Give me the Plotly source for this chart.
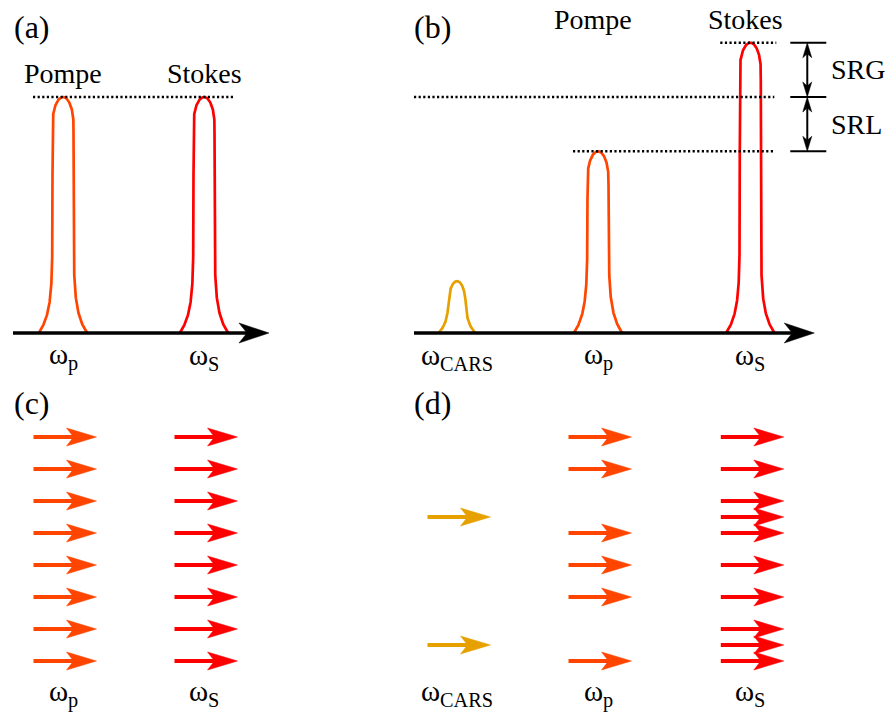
import numpy as np
import plotly.graph_objects as go

# ---------------------------------------------------------------------------
# Data
# ---------------------------------------------------------------------------
# (a) spectra without interaction: centre (a.u.), amplitude, half width (a.u.)
a_labels = ["Pompe", "Stokes"]
a_symbols = ["ω<sub>p</sub>", "ω<sub>S</sub>"]
a_centres = [1.0, 2.0]
a_amps = [1.0, 1.0]
a_widths = [0.0745, 0.0745]

# (b) spectra with stimulated Raman interaction
b_labels = ["", "Pompe", "Stokes"]
b_symbols = ["ω<sub>CARS</sub>", "ω<sub>p</sub>", "ω<sub>S</sub>"]
b_centres = [0.0, 1.0, 2.08]
b_amps = [0.22, 0.77, 1.23]
b_widths = [0.057, 0.0745, 0.0745]

# reference level (amplitude of the beams before interaction)
ref_level = 1.0

# (c) photons per beam (row index of each photon)
c_pump_rows = [0, 1, 2, 3, 4, 5, 6, 7]
c_stokes_rows = [0, 1, 2, 3, 4, 5, 6, 7]

# (d) photons after interaction
d_cars_rows = [2.5, 6.5]
d_pump_rows = [0, 1, 3, 4, 5, 7]
d_stokes_rows = [0, 1, 2, 2.5, 3, 4, 5, 6, 6.5, 7]

# colours
C_CARS = "#E6A000"
C_PUMP = "#FF4500"
C_STOKES = "#FF0000"
C_INK = "#000000"
FONT = "Liberation Serif"

# ---------------------------------------------------------------------------
# Geometry helpers (pixel sizes converted to axis units)
# ---------------------------------------------------------------------------
W, H = 888, 721
SX = 141.0      # px per frequency unit
SY_TOP = 236.0  # px per amplitude unit
SY_BOT = 32.0   # px per photon row

X_LEFT = [1 - 63 / SX, 1 + 237 / SX]
X_RIGHT = [-57 / SX, (888 - 457) / SX]
Y_TOP = [-37 / SY_TOP, 333 / SY_TOP]
Y_BOT = [(721 - 437) / SY_BOT, (380 - 437) / SY_BOT]


def profile(c, amp, width):
    """Rounded, flat-sided line shape with a flared foot."""
    r = width * SX                 # half width of the flanks, px
    hpx = amp * SY_TOP             # peak height, px
    cap = min(2.6 * r, 0.45 * hpx)  # depth of the rounded top
    flare = 1.3 * r
    lam = min(20.0, 0.2 * hpx)
    t = np.linspace(0, 1, 500)
    h = hpx * (1 - (1 - t) ** 2)
    dy = hpx - h
    half = np.where(dy < cap, r * np.sqrt(np.clip(1 - (1 - dy / cap) ** 2, 0, 1)), r)
    half = half + flare * np.exp(-h / lam)
    xs = np.concatenate([c - half / SX, (c + half / SX)[::-1]])
    ys = np.concatenate([h, h[::-1]]) / SY_TOP
    return xs, ys


def h_arrow_heads(tips, rows, length, half, notch):
    xs, ys = [], []
    for t, r in zip(tips, rows):
        xs += [t, t - length, t - length + notch, t - length, t, None]
        ys += [r, r - half, r, r + half, r, None]
    return xs, ys


def photon_arrows(fig, centre, rows, colour, xa, ya):
    back, front = 29.5 / SX, 33.5 / SX
    hl, hh, nd = 30 / SX, 9 / SY_BOT, 7 / SX
    sx, sy = [], []
    for r in rows:
        sx += [centre - back, centre + front - hl + nd + 1 / SX, None]
        sy += [r, r, None]
    fig.add_trace(go.Scatter(x=sx, y=sy, mode="lines", xaxis=xa, yaxis=ya,
                             line=dict(color=colour, width=4), hoverinfo="skip"))
    hx, hy = h_arrow_heads([centre + front] * len(rows), rows, hl, hh, nd)
    fig.add_trace(go.Scatter(x=hx, y=hy, mode="lines", fill="toself", fillcolor=colour,
                             xaxis=xa, yaxis=ya, line=dict(color=colour, width=0.5),
                             hoverinfo="skip"))


def freq_axis(fig, x0, x1, xa, ya):
    hl, hh, nd = 30 / SX, 10 / SY_TOP, 8 / SX
    fig.add_trace(go.Scatter(x=[x0, x1 - hl + nd], y=[0, 0], mode="lines",
                             xaxis=xa, yaxis=ya, line=dict(color=C_INK, width=3.5),
                             hoverinfo="skip"))
    hx, hy = h_arrow_heads([x1], [0], hl, hh, nd)
    fig.add_trace(go.Scatter(x=hx, y=hy, mode="lines", fill="toself", fillcolor=C_INK,
                             xaxis=xa, yaxis=ya, line=dict(color=C_INK, width=0.5),
                             hoverinfo="skip"))


def dotted(fig, x0, x1, level, xa, ya):
    fig.add_trace(go.Scatter(x=[x0, x1], y=[level, level], mode="lines",
                             xaxis=xa, yaxis=ya,
                             line=dict(color=C_INK, width=2.4, dash="2.2px,2.4px"),
                             hoverinfo="skip"))


fig = go.Figure()

# ---------------------------------------------------------------------------
# (a) spectra
# ---------------------------------------------------------------------------
for c, amp, w, col in zip(a_centres, a_amps, a_widths, [C_PUMP, C_STOKES]):
    x, y = profile(c, amp, w)
    fig.add_trace(go.Scatter(x=x, y=y, mode="lines", xaxis="x", yaxis="y",
                             line=dict(color=col, width=2.7), hoverinfo="skip"))
dotted(fig, a_centres[0] - 30 / SX, a_centres[1] + 30 / SX, ref_level, "x", "y")
freq_axis(fig, a_centres[0] - 50 / SX, a_centres[1] + 65 / SX, "x", "y")

# ---------------------------------------------------------------------------
# (b) spectra
# ---------------------------------------------------------------------------
for c, amp, w, col in zip(b_centres, b_amps, b_widths, [C_CARS, C_PUMP, C_STOKES]):
    x, y = profile(c, amp, w)
    fig.add_trace(go.Scatter(x=x, y=y, mode="lines", xaxis="x2", yaxis="y2",
                             line=dict(color=col, width=2.7), hoverinfo="skip"))
x_end = b_centres[2] + 24 / SX
dotted(fig, b_centres[2] - 30 / SX, b_centres[2] + 26 / SX, b_amps[2], "x2", "y2")
dotted(fig, b_centres[0] - 43 / SX, x_end, ref_level, "x2", "y2")
dotted(fig, b_centres[1] - 25 / SX, x_end, b_amps[1], "x2", "y2")
freq_axis(fig, b_centres[0] - 43 / SX, b_centres[2] + 64 / SX, "x2", "y2")

# SRG / SRL brackets
bx0 = b_centres[2] + 40 / SX
bx1 = b_centres[2] + 76 / SX
bxa = b_centres[2] + 57 / SX
levels = [b_amps[2], ref_level, b_amps[1]]
tx, ty = [], []
for lv in levels:
    tx += [bx0, bx1, None]
    ty += [lv, lv, None]
fig.add_trace(go.Scatter(x=tx, y=ty, mode="lines", xaxis="x2", yaxis="y2",
                         line=dict(color=C_INK, width=2), hoverinfo="skip"))
vhl, vhw, vnd = 15 / SY_TOP, 4.5 / SX, 4 / SY_TOP
vx, vy, hx, hy = [], [], [], []
for top, bot in [(levels[0], levels[1]), (levels[1], levels[2])]:
    vx += [bxa, bxa, None]
    vy += [top - vhl + vnd, bot + vhl - vnd, None]
    hx += [bxa, bxa - vhw, bxa, bxa + vhw, bxa, None]
    hy += [top, top - vhl, top - vhl + vnd, top - vhl, top, None]
    hx += [bxa, bxa - vhw, bxa, bxa + vhw, bxa, None]
    hy += [bot, bot + vhl, bot + vhl - vnd, bot + vhl, bot, None]
fig.add_trace(go.Scatter(x=vx, y=vy, mode="lines", xaxis="x2", yaxis="y2",
                         line=dict(color=C_INK, width=2), hoverinfo="skip"))
fig.add_trace(go.Scatter(x=hx, y=hy, mode="lines", fill="toself", fillcolor=C_INK,
                         xaxis="x2", yaxis="y2", line=dict(color=C_INK, width=0.5),
                         hoverinfo="skip"))

# ---------------------------------------------------------------------------
# (c) and (d) photons
# ---------------------------------------------------------------------------
photon_arrows(fig, a_centres[0], c_pump_rows, C_PUMP, "x3", "y3")
photon_arrows(fig, a_centres[1], c_stokes_rows, C_STOKES, "x3", "y3")
photon_arrows(fig, b_centres[0], d_cars_rows, C_CARS, "x4", "y4")
photon_arrows(fig, b_centres[1], d_pump_rows, C_PUMP, "x4", "y4")
photon_arrows(fig, b_centres[2], d_stokes_rows, C_STOKES, "x4", "y4")

# ---------------------------------------------------------------------------
# Text
# ---------------------------------------------------------------------------
ann = []


def txt(x, y, s, xr, yr, size=28, xanchor="center", yanchor="middle"):
    ann.append(dict(x=x, y=y, text=s, xref=xr, yref=yr, showarrow=False,
                    xanchor=xanchor, yanchor=yanchor,
                    font=dict(family=FONT, size=size, color=C_INK)))


for c, lab in zip(a_centres, a_labels):
    txt(c, 1.10, lab, "x", "y")
for c, sym in zip(a_centres, a_symbols):
    txt(c, -0.10, sym, "x", "y", size=29)
for c, lab in zip(b_centres, b_labels):
    if lab:
        txt(c - 5 / SX, 1.33, lab, "x2", "y2")
for c, sym in zip(b_centres, b_symbols):
    txt(c, -0.10, sym, "x2", "y2", size=29)
txt(bx1 + 3 / SX, (levels[0] + levels[1]) / 2, "SRG", "x2", "y2", xanchor="left")
txt(bx1 + 3 / SX, (levels[1] + levels[2]) / 2, "SRL", "x2", "y2", xanchor="left")

for c, sym in zip(a_centres, a_symbols):
    txt(c, 8.0, sym, "x3", "y3", size=29)
for c, sym in zip(b_centres, b_symbols):
    txt(c, 8.0, sym, "x4", "y4", size=29)

for lab, px, py in [("(a)", 12, 27), ("(b)", 412, 27), ("(c)", 12, 403), ("(d)", 412, 403)]:
    txt(px / W, 1 - py / H, lab, "paper", "paper", size=32, xanchor="left")

# ---------------------------------------------------------------------------
# Layout
# ---------------------------------------------------------------------------
ax = dict(visible=False, showgrid=False, zeroline=False, fixedrange=True)
top_dom = [1 - 370 / H, 1]
bot_dom = [0, 1 - 380 / H]
fig.update_layout(
    width=W, height=H, margin=dict(l=0, r=0, t=0, b=0),
    paper_bgcolor="white", plot_bgcolor="white", showlegend=False,
    font=dict(family=FONT, color=C_INK),
    xaxis=dict(ax, domain=[0, 300 / W], range=X_LEFT, anchor="y"),
    yaxis=dict(ax, domain=top_dom, range=Y_TOP, anchor="x"),
    xaxis2=dict(ax, domain=[400 / W, 1], range=X_RIGHT, anchor="y2"),
    yaxis2=dict(ax, domain=top_dom, range=Y_TOP, anchor="x2"),
    xaxis3=dict(ax, domain=[0, 300 / W], range=X_LEFT, anchor="y3"),
    yaxis3=dict(ax, domain=bot_dom, range=Y_BOT, anchor="x3"),
    xaxis4=dict(ax, domain=[400 / W, 1], range=X_RIGHT, anchor="y4"),
    yaxis4=dict(ax, domain=bot_dom, range=Y_BOT, anchor="x4"),
    annotations=ann,
)

fig.write_html("out.html")
